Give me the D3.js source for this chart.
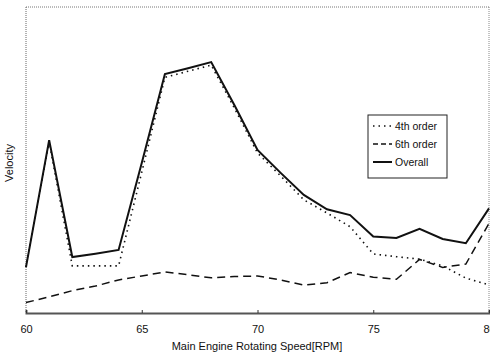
<!DOCTYPE html>
<html><head><meta charset="utf-8">
<script src="https://cdn.jsdelivr.net/npm/d3@7"></script>
<style>body{margin:0;background:#fff}svg{display:block}text{font-family:"Liberation Sans",Arial,sans-serif;fill:#111}</style>
</head><body>
<svg id="c" width="490" height="353"></svg>
<script>
const rpm = [60,61,62,63,64,65,66,67,68,69,70,71,72,73,74,75,76,77,78,79,80];
const overall = [15,56.5,18.3,19.4,20.6,49,78.1,80,82,68,53.3,45.8,38.6,33.9,32,25,24.5,27.5,24.2,22.8,34.2];
const order4 = [15,56,15.4,15.4,15.4,46,77,79,81,67,52.3,44.8,37,32.7,28.2,19.3,18.4,17.6,15.4,11.4,9.2];
const order6 = [3.4,5.3,7.3,8.8,10.8,12.1,13.4,12.5,11.5,11.9,12.1,10.8,9.1,9.9,13.2,11.7,11,17.5,14.9,16,29.3];
const xTicks = [60,65,70,75,80];
const legendLabels = ["4th order","6th order","Overall"];

const svg = d3.select("#c");
const L=26,R=489,T=7,B=313;
const x = d3.scaleLinear().domain([60,80]).range([L,R]);
const y = d3.scaleLinear().domain([0,100]).range([B,T]);

// frame
svg.append("line").attr("x1",L).attr("x2",R).attr("y1",T).attr("y2",T).attr("stroke","#777").attr("stroke-width",1).attr("stroke-dasharray","1,1");
svg.append("line").attr("x1",L).attr("x2",L).attr("y1",T).attr("y2",B).attr("stroke","#666").attr("stroke-width",1).attr("stroke-dasharray","1,1");
svg.append("line").attr("x1",R).attr("x2",R).attr("y1",T).attr("y2",B).attr("stroke","#888").attr("stroke-width",1).attr("stroke-dasharray","1,1");

const ax = svg.append("g").attr("transform",`translate(0,${B})`)
  .call(d3.axisBottom(x).tickValues(xTicks).tickSize(-3).tickPadding(12).tickFormat(d3.format("d")));
ax.select(".domain").attr("stroke","#555").attr("stroke-width",2);
ax.selectAll(".tick line").attr("stroke","#333");
ax.selectAll("text").style("font-size","11px").attr("fill","#111");

const line = (vals)=>d3.line().x((d,i)=>x(rpm[i])).y(d=>y(d))(vals);
svg.append("path").attr("d",line(order6)).attr("fill","none").attr("stroke","#111").attr("stroke-width",1.5).attr("stroke-dasharray","8,5");
svg.append("path").attr("d",line(order4)).attr("fill","none").attr("stroke","#111").attr("stroke-width",1.6).attr("stroke-dasharray","1.5,4");
svg.append("path").attr("d",line(overall)).attr("fill","none").attr("stroke","#111").attr("stroke-width",2);

// labels
svg.append("text").attr("x",257).attr("y",350).attr("text-anchor","middle").style("font-size","11px").text("Main Engine Rotating Speed[RPM]");
svg.append("text").attr("transform","translate(13,163) rotate(-90)").attr("text-anchor","middle").style("font-size","11px").text("Velocity");

// legend
const lg = svg.append("g");
lg.append("rect").attr("x",368).attr("y",115).attr("width",79).attr("height",63).attr("fill","#fff").attr("stroke","#222").attr("stroke-width",1);
const styles = [{da:"1.5,4",w:1.6},{da:"5,3",w:1.5},{da:null,w:2}];
legendLabels.forEach((t,i)=>{
  const yy = 126 + i*18;
  const l = lg.append("line").attr("x1",373).attr("x2",392).attr("y1",yy).attr("y2",yy).attr("stroke","#111").attr("stroke-width",styles[i].w);
  if(styles[i].da) l.attr("stroke-dasharray",styles[i].da);
  lg.append("text").attr("x",395).attr("y",yy+4).style("font-size","10.5px").text(t);
});
</script>
</body></html>
